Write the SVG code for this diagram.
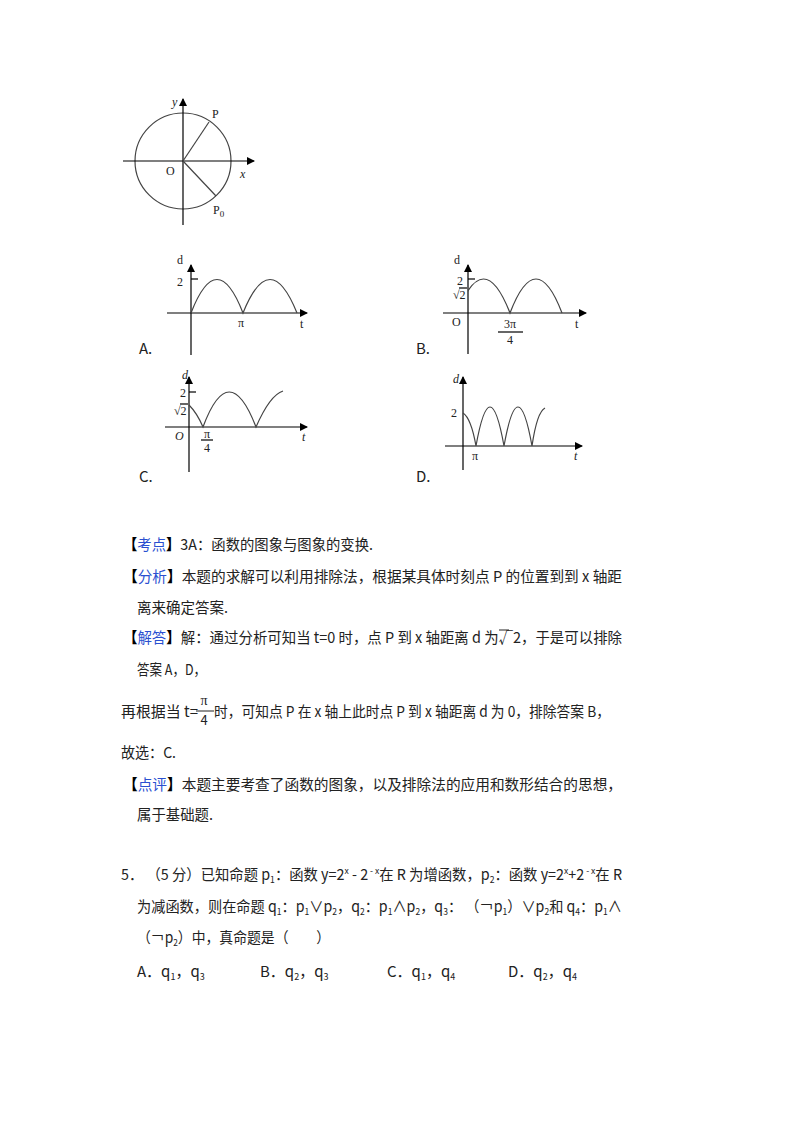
<svg xmlns="http://www.w3.org/2000/svg" width="800" height="1132" viewBox="0 0 800 1132">
<style>
.l{stroke:#000;stroke-width:1.2;fill:none}
.c{stroke:#444;stroke-width:1.2;fill:none}
.m{font-family:"Liberation Serif",serif;font-size:12px;fill:#222}
.mi{font-family:"Liberation Serif",serif;font-size:12px;font-style:italic;fill:#222}
.t{font-family:"Noto Sans CJK SC",sans-serif;font-size:15px;fill:#222}
.b{fill:#2a4fd0}
.k{font-weight:bold;fill:#000}
.s{font-size:9px}
</style>
<defs><marker id="a" markerWidth="8" markerHeight="8" refX="7" refY="4" orient="auto" markerUnits="userSpaceOnUse"><path d="M0,0L8,4L0,8z" fill="#000"/></marker>
<clipPath id="cb"><rect x="468" y="250" width="120" height="70"/></clipPath></defs>
<rect width="800" height="1132" fill="#fff"/>
<g id="circle">
<circle cx="183" cy="161" r="48" class="c"/>
<line x1="123" y1="161" x2="254" y2="161" class="l" marker-end="url(#a)"/>
<line x1="183" y1="225" x2="183" y2="99" class="l" marker-end="url(#a)"/>
<line x1="183" y1="161" x2="209" y2="122" class="c"/>
<line x1="183" y1="161" x2="216" y2="196" class="c"/>
<text x="172" y="106" class="mi">y</text><text x="212" y="118" class="m">P</text>
<text x="166" y="175" class="m">O</text><text x="240" y="178" class="mi">x</text>
<text x="213" y="214" class="m">P<tspan class="s" dy="3">0</tspan></text>
</g>
<g id="graphA">
<line x1="191" y1="355" x2="191" y2="265" class="l" marker-end="url(#a)"/>
<line x1="167" y1="313" x2="307" y2="313" class="l" marker-end="url(#a)"/>
<line x1="191" y1="279" x2="198" y2="279" class="l"/>
<path d="M191,313Q217,246 243,313Q270,246 297,313" class="c"/>
<text x="177" y="264" class="m">d</text><text x="177" y="286" class="m">2</text>
<text x="238" y="327" class="m">π</text><text x="300" y="328" class="m">t</text>
<text x="139" y="354" class="t">A.</text>
</g>
<g id="graphB">
<line x1="468" y1="354" x2="468" y2="265" class="l" marker-end="url(#a)"/>
<line x1="443" y1="313" x2="586" y2="313" class="l" marker-end="url(#a)"/>
<line x1="468" y1="279" x2="475" y2="279" class="l"/>
<path d="M457,313Q483.5,245 510,313Q536,245 562,313" class="c" clip-path="url(#cb)"/>
<text x="454" y="264" class="m">d</text><text x="457" y="285" class="m">2</text>
<text x="453" y="299" class="m">√2</text><line x1="459" y1="288" x2="467" y2="288" class="l" stroke-width="0.8"/>
<text x="452" y="326" class="m">O</text>
<text x="510" y="328" class="m" text-anchor="middle">3π</text><line x1="498" y1="332" x2="523" y2="332" class="l"/>
<text x="510" y="344" class="m" text-anchor="middle">4</text>
<text x="575" y="328" class="m">t</text>
<text x="416" y="354" class="t">B.</text>
</g>
<g id="graphC">
<line x1="189" y1="472" x2="189" y2="377" class="l" marker-end="url(#a)"/>
<line x1="165" y1="427" x2="307" y2="427" class="l" marker-end="url(#a)"/>
<line x1="189" y1="392" x2="196" y2="392" class="l"/>
<path d="M189,405Q197,413 203,427Q229,357 256,427Q270,395 283,391" class="c"/>
<text x="182" y="379" class="mi">d</text><text x="180" y="397" class="m">2</text>
<text x="174" y="415" class="m">√2</text><line x1="180" y1="404" x2="188" y2="404" class="l" stroke-width="0.8"/>
<text x="175" y="440" class="mi">O</text>
<text x="207" y="438" class="m" text-anchor="middle">π</text><line x1="201" y1="440" x2="213" y2="440" class="l"/>
<text x="207" y="452" class="m" text-anchor="middle">4</text>
<text x="302" y="441" class="mi">t</text>
<text x="139" y="482" class="t">C.</text>
</g>
<g id="graphD">
<line x1="463" y1="470" x2="463" y2="377" class="l" marker-end="url(#a)"/>
<line x1="445" y1="446" x2="582" y2="446" class="l" marker-end="url(#a)"/>
<path d="M463,413Q471,418 476,446Q490,368 504,446Q518,368 532,446Q537,412 545,408" class="c"/>
<text x="453" y="383" class="mi">d</text><text x="451" y="417" class="m">2</text>
<text x="472" y="460" class="m">π</text><text x="574" y="460" class="mi">t</text>
<text x="416" y="482" class="t">D.</text>
</g>
<g id="text" class="t">
<text x="123" y="550" textLength="250" lengthAdjust="spacingAndGlyphs"><tspan class="k">【</tspan><tspan class="b">考点</tspan><tspan class="k">】</tspan>3A：函数的图象与图象的变换.</text>
<text x="123" y="582" textLength="499" lengthAdjust="spacingAndGlyphs"><tspan class="k">【</tspan><tspan class="b">分析</tspan><tspan class="k">】</tspan>本题的求解可以利用排除法，根据某具体时刻点 P 的位置到到 x 轴距</text>
<text x="137" y="613" textLength="91" lengthAdjust="spacingAndGlyphs">离来确定答案.</text>
<text x="123" y="643" textLength="499" lengthAdjust="spacingAndGlyphs"><tspan class="k">【</tspan><tspan class="b">解答</tspan><tspan class="k">】</tspan>解：通过分析可知当 t=0 时，点 P 到 x 轴距离 d 为√2，于是可以排除</text>
<line x1="499" y1="630" x2="509" y2="630" stroke="#222" stroke-width="1"/>
<text x="137" y="675" textLength="69" lengthAdjust="spacingAndGlyphs">答案 A，D，</text>
<text x="121" y="717" textLength="77" lengthAdjust="spacingAndGlyphs">再根据当 t=</text>
<text x="204" y="705" text-anchor="middle" font-family="Liberation Serif,serif" font-size="14">π</text>
<line x1="196" y1="711" x2="214" y2="711" stroke="#222" stroke-width="1"/>
<text x="204" y="725" text-anchor="middle" font-size="13">4</text>
<text x="214" y="717" textLength="396" lengthAdjust="spacingAndGlyphs">时，可知点 P 在 x 轴上此时点 P 到 x 轴距离 d 为 0，排除答案 B，</text>
<text x="121" y="758" textLength="55" lengthAdjust="spacingAndGlyphs">故选：C.</text>
<text x="123" y="790" textLength="499" lengthAdjust="spacingAndGlyphs"><tspan class="k">【</tspan><tspan class="b">点评</tspan><tspan class="k">】</tspan>本题主要考查了函数的图象，以及排除法的应用和数形结合的思想，</text>
<text x="137" y="820" textLength="76" lengthAdjust="spacingAndGlyphs">属于基础题.</text>
<text x="121" y="880" textLength="501" lengthAdjust="spacingAndGlyphs">5． （5 分）已知命题 p<tspan class="s" dy="3">1</tspan><tspan dy="-3">：函数 y=2</tspan><tspan class="s" dy="-6">x</tspan><tspan dy="6"> - 2</tspan><tspan class="s" dy="-6"> - x</tspan><tspan dy="6">在 R 为增函数，p</tspan><tspan class="s" dy="3">2</tspan><tspan dy="-3">：函数 y=2</tspan><tspan class="s" dy="-6">x</tspan><tspan dy="6">+2</tspan><tspan class="s" dy="-6"> - x</tspan><tspan dy="6">在 R</tspan></text>
<text x="137" y="912" textLength="485" lengthAdjust="spacingAndGlyphs">为减函数，则在命题 q<tspan class="s" dy="3">1</tspan><tspan dy="-3">：p</tspan><tspan class="s" dy="3">1</tspan><tspan dy="-3">∨p</tspan><tspan class="s" dy="3">2</tspan><tspan dy="-3">，q</tspan><tspan class="s" dy="3">2</tspan><tspan dy="-3">：p</tspan><tspan class="s" dy="3">1</tspan><tspan dy="-3">∧p</tspan><tspan class="s" dy="3">2</tspan><tspan dy="-3">，q</tspan><tspan class="s" dy="3">3</tspan><tspan dy="-3">： （￢p</tspan><tspan class="s" dy="3">1</tspan><tspan dy="-3">）∨p</tspan><tspan class="s" dy="3">2</tspan><tspan dy="-3">和 q</tspan><tspan class="s" dy="3">4</tspan><tspan dy="-3">：p</tspan><tspan class="s" dy="3">1</tspan><tspan dy="-3">∧</tspan></text>
<text x="137" y="943" textLength="193" lengthAdjust="spacingAndGlyphs">（￢p<tspan class="s" dy="3">2</tspan><tspan dy="-3">）中，真命题是（　　）</tspan></text>
<text x="137" y="977">A．q<tspan class="s" dy="3">1</tspan><tspan dy="-3">，q</tspan><tspan class="s" dy="3">3</tspan></text>
<text x="260" y="977">B．q<tspan class="s" dy="3">2</tspan><tspan dy="-3">，q</tspan><tspan class="s" dy="3">3</tspan></text>
<text x="387" y="977">C．q<tspan class="s" dy="3">1</tspan><tspan dy="-3">，q</tspan><tspan class="s" dy="3">4</tspan></text>
<text x="508" y="977">D．q<tspan class="s" dy="3">2</tspan><tspan dy="-3">，q</tspan><tspan class="s" dy="3">4</tspan></text>
</g>
</svg>
